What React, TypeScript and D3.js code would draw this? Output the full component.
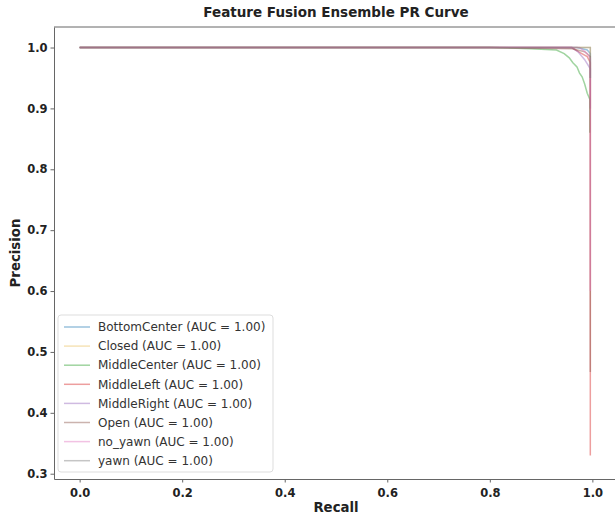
import React, { useEffect, useRef } from "react";
import * as d3 from "d3";

// class names shown in the legend
const classNames = ["BottomCenter", "Closed", "MiddleCenter", "MiddleLeft", "MiddleRight", "Open", "no_yawn", "yawn"];
const aucLabels = ["1.00", "1.00", "1.00", "1.00", "1.00", "1.00", "1.00", "1.00"];
const classColors = ["#1f77b4", "#e8c060", "#2ca02c", "#d62728", "#9467bd", "#8c564b", "#e377c2", "#7f7f7f"];

// [recall, precision] points
const bottomCenter = [[0, 1], [0.97, 1], [0.99, 0.996], [0.996, 0.99], [0.996, 0.95]];
const closed = [[0, 1], [0.996, 1], [0.996, 0.9]];
const middleCenter = [[0, 1], [0.8, 1], [0.88, 0.998], [0.93, 0.996], [0.945, 0.99], [0.955, 0.983], [0.962, 0.975], [0.97, 0.968], [0.975, 0.958], [0.98, 0.952], [0.985, 0.94], [0.99, 0.925], [0.995, 0.915], [0.995, 0.86]];
const middleLeft = [[0, 1], [0.96, 1], [0.975, 0.992], [0.99, 0.985], [0.996, 0.975], [0.996, 0.33]];
const middleRight = [[0, 1], [0.96, 1], [0.972, 0.993], [0.985, 0.98], [0.996, 0.965], [0.996, 0.9]];
const open = [[0, 1], [0.8, 1], [0.9, 0.999], [0.96, 0.998], [0.985, 0.993], [0.996, 0.985], [0.996, 0.467]];
const noYawn = [[0, 1], [0.975, 1], [0.99, 0.99], [0.996, 0.982], [0.996, 0.6]];
const yawn = [[0, 1], [0.996, 1], [0.996, 0.95]];

const curves = [bottomCenter, closed, middleCenter, middleLeft, middleRight, open, noYawn, yawn];

const xTicks = [0, 0.2, 0.4, 0.6, 0.8, 1.0];
const yTicks = [0.3, 0.4, 0.5, 0.6, 0.7, 0.8, 0.9, 1.0];

export default function App() {
  const ref = useRef<SVGSVGElement>(null);

  useEffect(() => {
    const width = 615;
    const height = 518;
    const margin = { top: 27, right: -3, bottom: 39, left: 54 }; // right spine is cut off in the original
    const innerWidth = width - margin.left - margin.right;
    const innerHeight = height - margin.top - margin.bottom;
    const font = "DejaVu Sans, sans-serif";

    const svg = d3.select(ref.current);
    svg.selectAll("*").remove();

    const g = svg.append("g").attr("transform", `translate(${margin.left}, ${margin.top})`);

    const xScale = d3.scaleLinear().domain([-0.05, 1.05]).range([0, innerWidth]);
    const yScale = d3.scaleLinear().domain([0.2913, 1.0337]).range([innerHeight, 0]);

    // curves
    const line = d3.line<number[]>().x(d => xScale(d[0])).y(d => yScale(d[1]));
    g.selectAll(".curve").data(curves).join("path").attr("class", "curve")
      .attr("d", d => line(d))
      .attr("fill", "none")
      .attr("stroke", (d, i) => classColors[i])
      .attr("stroke-opacity", 0.45)
      .attr("stroke-width", 1.5);

    // axes
    const xAxis = d3.axisBottom(xScale).tickValues(xTicks).tickFormat(d3.format(".1f")).tickSize(3.5).tickSizeOuter(0);
    const yAxis = d3.axisLeft(yScale).tickValues(yTicks).tickFormat(d3.format(".1f")).tickSize(3.5).tickSizeOuter(0);

    const gx = g.append("g").attr("transform", `translate(0, ${innerHeight})`).call(xAxis);
    const gy = g.append("g").call(yAxis);
    [gx, gy].forEach(a => {
      a.select(".domain").attr("stroke", "#666");
      a.selectAll(".tick line").attr("stroke", "#666");
      a.selectAll(".tick text").attr("font-family", font).attr("font-size", 11.5)
        .attr("font-weight", "bold").attr("fill", "#222");
    });
    gx.selectAll(".tick text").attr("dy", "1.0em");

    // top spine
    g.append("line").attr("x1", 0).attr("x2", innerWidth).attr("y1", 0).attr("y2", 0).attr("stroke", "#666");

    // title + labels
    svg.append("text").attr("x", margin.left + innerWidth / 2).attr("y", 17)
      .attr("text-anchor", "middle").attr("font-family", font).attr("font-size", 13.5).attr("font-weight", "bold")
      .attr("fill", "#222").text("Feature Fusion Ensemble PR Curve");

    svg.append("text").attr("x", margin.left + innerWidth / 2).attr("y", 512)
      .attr("text-anchor", "middle").attr("font-family", font).attr("font-size", 13.3).attr("font-weight", "bold")
      .attr("fill", "#222").text("Recall");

    svg.append("text").attr("transform", `translate(20, ${margin.top + innerHeight / 2}) rotate(-90)`)
      .attr("text-anchor", "middle").attr("font-family", font).attr("font-size", 13.3).attr("font-weight", "bold")
      .attr("fill", "#222").text("Precision");

    // legend
    const legend = svg.append("g").attr("transform", "translate(58, 315)");
    legend.append("rect").attr("x", 0).attr("y", 0).attr("width", 215).attr("height", 157).attr("rx", 3)
      .attr("fill", "white").attr("fill-opacity", 0.8).attr("stroke", "#ddd");
    const rows = legend.selectAll(".row").data(classNames).join("g").attr("class", "row")
      .attr("transform", (d, i) => `translate(0, ${12 + i * 19.1})`);
    rows.append("line").attr("x1", 6).attr("x2", 32).attr("y1", 0).attr("y2", 0)
      .attr("stroke", (d, i) => classColors[i]).attr("stroke-opacity", 0.45).attr("stroke-width", 1.5);
    rows.append("text").attr("x", 40).attr("y", 0).attr("dy", "0.35em")
      .attr("font-family", font).attr("font-size", 12).attr("fill", "#333")
      .text((d, i) => `${d} (AUC = ${aucLabels[i]})`);
  }, []);

  return (
    <svg ref={ref} width={615} height={518}
      style={{ position: "absolute", left: 0, top: 0, background: "white" }} />
  );
}
